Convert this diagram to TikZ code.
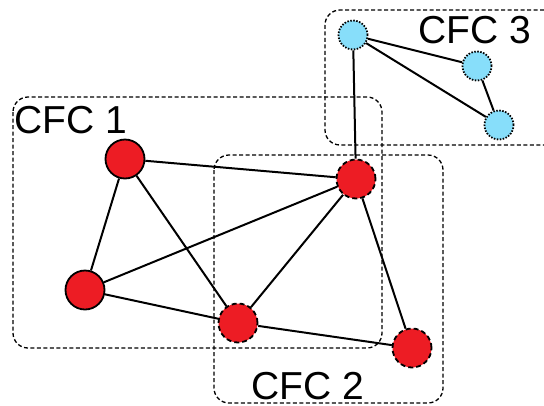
\documentclass[tikz,border=0pt]{standalone}
\usepackage{fontspec}
\setmainfont{Liberation Sans}
\definecolor{nodered}{RGB}{237,28,36}
\definecolor{nodeblue}{RGB}{135,222,250}
\begin{document}
\begin{tikzpicture}[x=1pt,y=-1pt,
  redsolid/.style={circle,draw=black,fill=nodered,line width=1.8pt,minimum size=39pt,inner sep=0pt},
  reddash/.style={redsolid,dash pattern=on 5pt off 3pt},
  bluedot/.style={circle,draw=black,fill=nodeblue,line width=1.8pt,minimum size=29pt,inner sep=0pt,dash pattern=on 1.5pt off 1.5pt},
  edge/.style={line width=2pt,black},
  cfcbox/.style={line width=1.3pt,dash pattern=on 4pt off 2.5pt,rounded corners=15pt},
  cfclabel/.style={inner sep=0pt,text depth=0pt,anchor=base west,font=\fontsize{39}{39}\selectfont}]
\useasboundingbox (0,0) rectangle (544,405);
% boxes
\draw[cfcbox] (13,97) rectangle (382,348);
\draw[cfcbox] (214,155) rectangle (443,403);
\draw[cfcbox] (544,10) -- (325,10) -- (325,145) -- (544,145);
% labels
\node[cfclabel] (l1) at (14,133) {CFC 1};
\node[cfclabel] (l2) at (251,399) {CFC 2};
\node[cfclabel] (l3) at (418,43) {CFC 3};
% nodes
\node[redsolid] (A) at (125,159) {};
\node[redsolid] (B) at (85,290) {};
\node[reddash] (C) at (238,323) {};
\node[reddash] (D) at (356,179) {};
\node[reddash] (E) at (412,348) {};
\node[bluedot] (F) at (353,35) {};
\node[bluedot] (G) at (477,66) {};
\node[bluedot] (H) at (499,125) {};
% edges
\draw[edge] (A) -- (D);
\draw[edge] (A) -- (B);
\draw[edge] (A) -- (C);
\draw[edge] (B) -- (D);
\draw[edge] (B) -- (C);
\draw[edge] (C) -- (D);
\draw[edge] (C) -- (E);
\draw[edge] (D) -- (E);
\draw[edge] (D) -- (F);
\draw[edge] (F) -- (G);
\draw[edge] (F) -- (H);
\draw[edge] (G) -- (H);
\end{tikzpicture}
\end{document}
